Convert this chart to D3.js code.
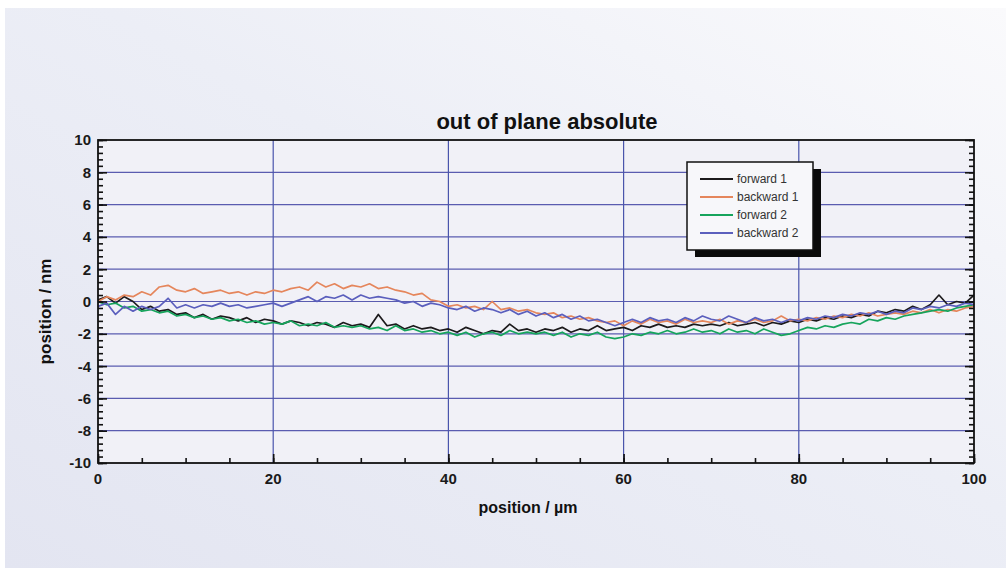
<!DOCTYPE html>
<html><head><meta charset="utf-8">
<script src="https://cdn.jsdelivr.net/npm/d3@7"></script>
<style>html,body{margin:0;padding:0;background:#fff;}svg{display:block;}</style>
</head><body>
<script>
// ---- data ----
const xValues = d3.range(0, 101, 1); // position / µm
const forward1 = [0.1,0.3,-0.1,0.3,0.0,-0.5,-0.3,-0.6,-0.5,-0.8,-0.7,-1.0,-0.8,-1.1,-0.9,-1.0,-1.2,-1.0,-1.3,-1.1,-1.2,-1.4,-1.2,-1.3,-1.5,-1.3,-1.4,-1.6,-1.3,-1.5,-1.4,-1.6,-0.8,-1.5,-1.4,-1.7,-1.5,-1.7,-1.6,-1.8,-1.7,-1.9,-1.6,-1.8,-2.0,-1.8,-1.9,-1.4,-1.8,-1.7,-1.9,-1.7,-1.8,-1.6,-1.9,-1.7,-1.8,-1.5,-1.8,-1.7,-1.6,-1.8,-1.5,-1.6,-1.4,-1.6,-1.5,-1.6,-1.4,-1.5,-1.4,-1.5,-1.3,-1.5,-1.4,-1.3,-1.5,-1.3,-1.4,-1.2,-1.3,-1.1,-1.2,-1.0,-1.1,-0.9,-1.0,-0.8,-0.9,-0.6,-0.7,-0.5,-0.6,-0.3,-0.5,-0.2,0.4,-0.2,0.0,-0.1,0.4];
const backward1 = [0.0,0.3,0.1,0.4,0.3,0.6,0.4,0.9,1.0,0.7,0.6,0.8,0.5,0.6,0.7,0.5,0.6,0.4,0.6,0.5,0.7,0.6,0.8,0.9,0.7,1.2,0.9,1.1,0.8,1.0,0.9,1.1,0.8,0.9,0.7,0.6,0.4,0.5,0.1,0.0,-0.3,-0.2,-0.4,-0.3,-0.5,0.0,-0.5,-0.4,-0.6,-0.5,-0.7,-0.8,-0.7,-1.0,-0.9,-1.1,-1.0,-1.2,-1.3,-1.2,-1.5,-1.2,-1.4,-1.1,-1.3,-1.2,-1.4,-1.1,-1.3,-1.2,-1.3,-1.1,-1.4,-1.2,-1.3,-1.1,-1.3,-1.2,-0.9,-1.2,-1.1,-1.2,-1.0,-1.1,-0.9,-1.0,-0.8,-0.9,-0.7,-0.9,-0.8,-0.7,-0.8,-0.6,-0.7,-0.5,-0.7,-0.5,-0.6,-0.4,-0.3];
const forward2 = [0.0,-0.2,-0.1,-0.4,-0.3,-0.6,-0.5,-0.7,-0.6,-0.9,-0.8,-1.0,-0.9,-1.1,-1.0,-1.2,-1.1,-1.3,-1.2,-1.4,-1.3,-1.4,-1.2,-1.5,-1.4,-1.5,-1.3,-1.6,-1.5,-1.6,-1.5,-1.7,-1.6,-1.8,-1.5,-1.8,-1.7,-1.9,-1.8,-2.0,-1.9,-2.1,-1.9,-2.2,-2.0,-1.9,-2.1,-1.8,-2.0,-1.9,-2.0,-1.9,-2.1,-1.9,-2.2,-2.0,-2.1,-1.9,-2.2,-2.3,-2.2,-2.0,-2.1,-1.9,-2.0,-1.8,-2.0,-1.9,-1.7,-1.9,-1.8,-2.0,-1.7,-1.9,-1.8,-2.0,-1.7,-1.9,-2.1,-2.0,-1.8,-1.6,-1.7,-1.5,-1.6,-1.4,-1.3,-1.4,-1.1,-1.2,-1.0,-1.1,-0.9,-0.8,-0.7,-0.6,-0.5,-0.6,-0.4,-0.3,-0.2];
const backward2 = [-0.3,-0.1,-0.8,-0.3,-0.6,-0.3,-0.5,-0.3,0.2,-0.4,-0.2,-0.4,-0.2,-0.3,-0.1,-0.3,-0.2,-0.4,-0.3,-0.2,-0.1,-0.3,-0.1,0.1,0.3,0.0,0.3,0.2,0.4,0.1,0.4,0.2,0.3,0.2,0.1,-0.1,0.0,-0.3,-0.1,-0.2,-0.4,-0.5,-0.3,-0.6,-0.4,-0.5,-0.7,-0.5,-0.8,-0.6,-0.9,-0.7,-1.0,-0.8,-1.1,-0.9,-1.2,-1.1,-1.3,-1.5,-1.3,-1.1,-1.3,-1.0,-1.2,-1.1,-1.3,-1.0,-1.2,-0.9,-1.1,-1.2,-0.9,-1.1,-1.3,-1.0,-1.2,-1.1,-1.3,-1.1,-1.2,-1.0,-1.1,-0.9,-1.0,-0.8,-0.9,-0.7,-0.8,-0.6,-0.8,-0.6,-0.7,-0.4,-0.5,-0.3,-0.4,-0.2,-0.3,-0.1,-0.2];
const seriesNames = ["forward 1", "backward 1", "forward 2", "backward 2"];
const seriesValues = [forward1, backward1, forward2, backward2];
const seriesColors = ["#1c1a1c", "#e5865c", "#16a45c", "#5b5fbd"];
const xTicks = [0, 20, 40, 60, 80, 100];
const yTicks = [10, 8, 6, 4, 2, 0, -2, -4, -6, -8, -10];

const W = 1006, H = 568;
const L = 98, R = 974, T = 140, B = 463;

const svg = d3.select("body").append("svg").attr("width", W).attr("height", H)
  .style("font-family", "'Liberation Sans', Arial, sans-serif");

const defs = svg.append("defs");
const grad = defs.append("linearGradient").attr("id", "bg").attr("x1", "0").attr("y1", "1").attr("x2", "1").attr("y2", "0");
grad.append("stop").attr("offset", "0").attr("stop-color", "#e3e5f1");
grad.append("stop").attr("offset", "0.55").attr("stop-color", "#eceef6");
grad.append("stop").attr("offset", "1").attr("stop-color", "#fafafc");
defs.append("clipPath").attr("id", "clip").append("rect")
  .attr("x", L).attr("y", T).attr("width", R - L).attr("height", B - T);

svg.append("rect").attr("x", 0).attr("y", 0).attr("width", W).attr("height", H).attr("fill", "#ffffff");
svg.append("rect").attr("x", 5).attr("y", 8).attr("width", W - 5).attr("height", H - 8).attr("fill", "url(#bg)");

const x = d3.scaleLinear().domain([0, 100]).range([L, R]);
const y = d3.scaleLinear().domain([-10, 10]).range([B, T]);

// plot area
svg.append("rect").attr("x", L).attr("y", T).attr("width", R - L).attr("height", B - T).attr("fill", "#f1f1f7");

// grid
const grid = svg.append("g");
grid.selectAll("line.h").data(yTicks.filter(v => v > -10 && v < 10)).join("line")
  .attr("x1", L).attr("x2", R).attr("y1", d => y(d)).attr("y2", d => y(d))
  .attr("stroke", "#5a5cb0").attr("stroke-width", 1.2);
grid.selectAll("line.v").data(xTicks.filter(v => v > 0 && v < 100)).join("line")
  .attr("y1", T).attr("y2", B).attr("x1", d => x(d)).attr("x2", d => x(d))
  .attr("stroke", "#4a55ac").attr("stroke-width", 1.2);

// data lines
const line = d3.line().x((d, i) => x(xValues[i])).y(d => y(d));
const lines = svg.append("g").attr("clip-path", "url(#clip)");
seriesValues.forEach((vals, k) => {
  lines.append("path").datum(vals).attr("d", line).attr("fill", "none")
    .attr("stroke", seriesColors[k]).attr("stroke-width", 1.7).attr("stroke-linejoin", "round");
});

// axes with inward ticks
const axisStyle = g => {
  g.select(".domain").remove();
  g.selectAll(".tick line").attr("stroke", "#111").attr("stroke-width", 1.6);
};
const yMinor = d3.range(-10, 10.001, 0.4).map(v => Math.round(v * 10) / 10);
const xMinor = d3.range(0, 100.001, 5);

const gl = svg.append("g").attr("transform", `translate(${L},0)`);
gl.call(d3.axisRight(y).tickValues(yMinor).tickSize(5).tickFormat("")).call(axisStyle);
gl.append("g").call(d3.axisRight(y).tickValues(yTicks).tickSize(9).tickFormat("")).call(axisStyle);
const gr = svg.append("g").attr("transform", `translate(${R},0)`);
gr.call(d3.axisLeft(y).tickValues(yMinor).tickSize(5).tickFormat("")).call(axisStyle);
gr.append("g").call(d3.axisLeft(y).tickValues(yTicks).tickSize(9).tickFormat("")).call(axisStyle);
const gb = svg.append("g").attr("transform", `translate(0,${B})`);
gb.call(d3.axisTop(x).tickValues(xMinor).tickSize(5).tickFormat("")).call(axisStyle);
gb.append("g").call(d3.axisTop(x).tickValues(xTicks).tickSize(9).tickFormat("")).call(axisStyle);

// frame
svg.append("rect").attr("x", L).attr("y", T).attr("width", R - L).attr("height", B - T)
  .attr("fill", "none").attr("stroke", "#111").attr("stroke-width", 1.8);

// tick labels
svg.append("g").selectAll("text").data(yTicks).join("text")
  .attr("x", L - 7).attr("y", d => y(d)).attr("dy", "0.36em").attr("text-anchor", "end")
  .attr("font-size", 15).attr("font-weight", "bold").attr("fill", "#1a1a1a").text(d => d);
svg.append("g").selectAll("text").data(xTicks).join("text")
  .attr("x", d => x(d)).attr("y", B + 21).attr("text-anchor", "middle")
  .attr("font-size", 15).attr("font-weight", "bold").attr("fill", "#1a1a1a").text(d => d);

// titles
svg.append("text").attr("x", 547).attr("y", 129).attr("text-anchor", "middle")
  .attr("font-size", 22).attr("font-weight", "bold").attr("fill", "#111").text("out of plane absolute");
svg.append("text").attr("x", 528).attr("y", 513).attr("text-anchor", "middle")
  .attr("font-size", 16).attr("font-weight", "bold").attr("fill", "#111").text("position  / µm");
svg.append("text").attr("transform", `translate(51,${(T + B) / 2 + 10}) rotate(-90)`).attr("text-anchor", "middle")
  .attr("font-size", 17).attr("font-weight", "bold").attr("fill", "#111").text("position  / nm");

// legend
const lx = 687, ly = 162, lw = 126, lh = 88;
svg.append("rect").attr("x", lx + 8).attr("y", ly + 7).attr("width", lw).attr("height", lh).attr("fill", "#0a0a0a");
svg.append("rect").attr("x", lx).attr("y", ly).attr("width", lw).attr("height", lh)
  .attr("fill", "#f7f7fa").attr("stroke", "#111").attr("stroke-width", 1.5);
const leg = svg.append("g").selectAll("g").data(seriesNames).join("g")
  .attr("transform", (d, i) => `translate(${lx + 13},${ly + 17 + i * 18})`);
leg.append("line").attr("x1", 0).attr("x2", 33).attr("y1", 0).attr("y2", 0)
  .attr("stroke", (d, i) => seriesColors[i]).attr("stroke-width", 2);
leg.append("text").attr("x", 37).attr("y", 0).attr("dy", "0.35em")
  .attr("font-size", 12).attr("fill", "#333").text(d => d);
</script>
</body></html>
